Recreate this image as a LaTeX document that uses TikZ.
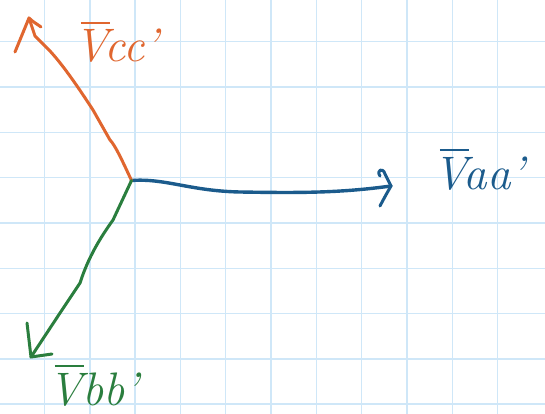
\documentclass[tikz,border=0pt]{standalone}
\usepackage{fontspec}
\usetikzlibrary{arrows.meta}
\definecolor{gridblue}{HTML}{CFE7F8}
\definecolor{penorange}{HTML}{E0662F}
\definecolor{penblue}{HTML}{1B5B8C}
\definecolor{pengreen}{HTML}{2A7E3E}
\newcommand\barV{\leavevmode\rlap{\hspace{0.14em}\rule[0.8em]{0.62em}{0.05em}}V}
\tikzset{
  pen/.style={line width=3pt, line cap=round, line join=round},
  lbl/.style={inner sep=0pt, anchor=base west, font=\fontsize{47}{56}\selectfont\itshape},
}
\begin{document}
\begin{tikzpicture}[x=1pt,y=-1pt]
\useasboundingbox (0,0) rectangle (545,414);
\fill[white] (0,0) rectangle (545,414);
% grid
\foreach \i in {0,...,11} {
  \draw[gridblue, line width=1.4pt] ({-0.8+45.3*\i},0) -- ({-0.8+45.3*\i},414);
}
\foreach \j in {1,...,9} {
  \draw[gridblue, line width=1.4pt] (0,{-3.6+45.3*\j}) -- (545,{-3.6+45.3*\j});
}
% key points
\coordinate (O) at (131.5,180.5);
\coordinate (A) at (391,186);
\coordinate (C) at (29,18);
\coordinate (B) at (31,357);
% blue phasor
\draw[pen, penblue, line width=3.4pt] (O) .. controls (165,178) and (190,191) .. (240,192)
  .. controls (300,193) and (340,193) .. (A);
\draw[pen, penblue, line width=3pt] (380,176) .. controls (376,170) and (383,167) .. (385,174)
  -- (A) .. controls (387,193) and (383,200) .. (380,206);
% orange phasor
\draw[pen, penorange] (O) .. controls (122,160) and (115,145) .. (110,140)
  -- (93,110) .. controls (80,90) and (60,60) .. (45,46) -- (35,36) -- (C);
\draw[pen, penorange] (15,52) -- (C) .. controls (33,22) and (37,24) .. (41,27);
% green phasor
\draw[pen, pengreen] (O) -- (113,220) .. controls (100,238) and (88,258) .. (80,283)
  -- (60,313) -- (B);
\draw[pen, pengreen] (27,323) -- (B) -- (52,354);
% labels
\node[lbl, text=penblue] (la) at (433,189) {\barV aa’};
\node[lbl, text=penorange] (lc) at (74,62) {\barV cc’};
\node[lbl, text=pengreen] (lb) at (48,405) {\barV bb’};
\end{tikzpicture}
\end{document}
